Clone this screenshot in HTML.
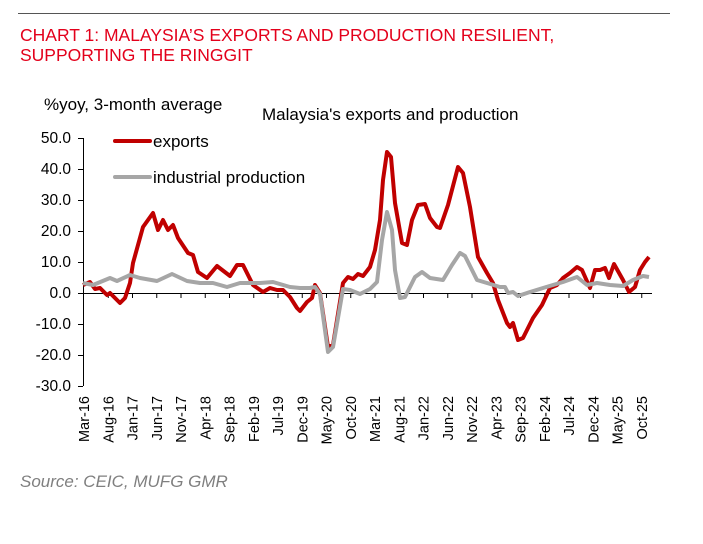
<!DOCTYPE html><html><head><style>body{margin:0;background:#fff;width:703px;height:539px;overflow:hidden}</style></head><body>
<svg width="703" height="539" xmlns="http://www.w3.org/2000/svg" font-family="Liberation Sans, sans-serif">
<line x1="18" y1="13.5" x2="670" y2="13.5" stroke="#555" stroke-width="1"/>
<text x="20" y="41" font-size="17.5" fill="#e3001b">CHART 1: MALAYSIA’S EXPORTS AND PRODUCTION RESILIENT,</text>
<text x="20" y="61" font-size="17.5" fill="#e3001b">SUPPORTING THE RINGGIT</text>
<text x="44" y="110" font-size="17" fill="#000">%yoy, 3-month average</text>
<text x="262" y="120" font-size="17" fill="#000">Malaysia's exports and production</text>
<g font-size="15.5" text-anchor="end" fill="#000">
<text x="71" y="143">50.0</text><text x="71" y="174">40.0</text><text x="71" y="205">30.0</text><text x="71" y="236">20.0</text><text x="71" y="267">10.0</text><text x="71" y="298">0.0</text><text x="71" y="329">-10.0</text><text x="71" y="360">-20.0</text><text x="71" y="391">-30.0</text>
</g>
<g stroke="#000" stroke-width="1">
<line x1="83.5" y1="138" x2="83.5" y2="386"/>
<line x1="78" y1="138.5" x2="83" y2="138.5"/><line x1="78" y1="169.5" x2="83" y2="169.5"/><line x1="78" y1="200.5" x2="83" y2="200.5"/><line x1="78" y1="231.5" x2="83" y2="231.5"/><line x1="78" y1="262.5" x2="83" y2="262.5"/><line x1="78" y1="293.5" x2="83" y2="293.5"/><line x1="78" y1="324.5" x2="83" y2="324.5"/><line x1="78" y1="355.5" x2="83" y2="355.5"/><line x1="78" y1="386.5" x2="83" y2="386.5"/>
<line x1="83" y1="293.5" x2="652" y2="293.5"/>
</g>
<g id="ticks" stroke="#000" stroke-width="1"></g>
<g font-size="14.5" fill="#000" id="xl"></g>
<polyline fill="none" stroke="#c00000" stroke-width="4" stroke-linejoin="round" points="83,285 90,282 95,289 100,288 107,295 110,293 120,303 125,298 130,283 133,263 143,227 153,213 158,230 163,220 168,230 173,225 178,238 188,253 193,255 198,272 207,278 217,266 230,276 237,265 243,265 253,285 263,292 270,288 277,290 283,290 290,297 297,308 300,311 307,302 312,298 315,285 320,293 328,347 333,345 343,283 348,277 353,279 358,274 363,276 370,267 375,250 380,220 383,180 387,152 391,157 395,203 402,243 407,245 412,220 418,205 425,204 430,218 437,227 440,228 448,205 458,167 463,173 470,207 478,257 487,273 493,283 498,300 507,323 510,327 513,323 518,340 523,338 533,318 542,305 550,288 557,285 563,278 570,273 577,267 582,270 590,288 595,270 600,270 605,268 609,278 614,264 623,280 629,292 635,287 640,270 645,262 649,257"/>
<polyline fill="none" stroke="#a6a6a6" stroke-width="4" stroke-linejoin="round" points="83,283 93,285 110,278 117,281 130,275 140,278 157,281 172,274 187,281 200,283 213,283 227,287 240,283 260,283 273,282 290,287 300,288 310,288 315,287 320,294 328,352 333,347 343,289 350,290 360,294 370,289 377,282 382,240 387,212 392,230 395,270 400,298 405,297 415,277 422,272 430,278 443,280 452,265 460,253 465,256 477,280 487,283 500,287 505,287 508,293 513,292 518,296 530,292 543,288 563,282 577,277 587,285 597,283 610,285 623,286 633,280 643,276 649,277"/>
<line x1="115" y1="141" x2="150" y2="141" stroke="#c00000" stroke-width="4" stroke-linecap="round"/>
<text x="153" y="147" font-size="17">exports</text>
<line x1="115" y1="177" x2="150" y2="177" stroke="#a6a6a6" stroke-width="4" stroke-linecap="round"/>
<text x="153" y="183" font-size="17">industrial production</text>
<text x="20" y="487" font-size="17" font-style="italic" fill="#7f7f7f">Source: CEIC, MUFG GMR</text>
</svg>
<script>
var L=["Mar-16","Aug-16","Jan-17","Jun-17","Nov-17","Apr-18","Sep-18","Feb-19","Jul-19","Dec-19","May-20","Oct-20","Mar-21","Aug-21","Jan-22","Jun-22","Nov-22","Apr-23","Sep-23","Feb-24","Jul-24","Dec-24","May-25","Oct-25"];
var t=document.getElementById('ticks'),x=document.getElementById('xl'),s='',u='';
for(var i=0;i<L.length;i++){var px=84+i*24.25;
if(i>0)s+='<line x1="'+px+'" y1="293" x2="'+px+'" y2="298"/>';
u+='<text transform="translate('+(px+5)+',396) rotate(-90)" text-anchor="end">'+L[i]+'</text>';}
t.innerHTML=s;x.innerHTML=u;
</script>
</body></html>
